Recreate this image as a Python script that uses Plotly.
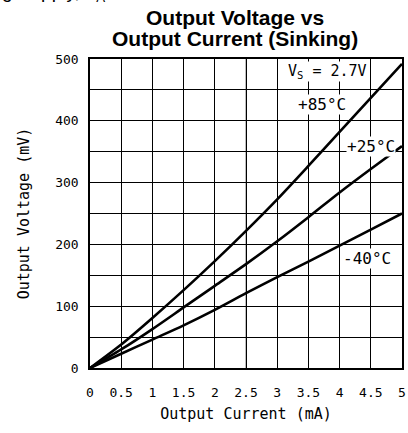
import plotly.graph_objects as go

# Data
current_ma = [0, 0.5, 1, 1.5, 2, 2.5, 3, 3.5, 4, 4.5, 5]
v_85c = [0, 38, 81, 126, 173, 222, 273, 327, 382, 437, 492]
v_25c = [0, 30, 63, 98, 133, 168, 205, 244, 284, 322, 359]
v_m40c = [0, 23, 46, 69, 94, 121, 147, 172, 198, 224, 250]

x_ticks = [0, 0.5, 1, 1.5, 2, 2.5, 3, 3.5, 4, 4.5, 5]
x_tick_labels = ["0", "0.5", "1", "1.5", "2", "2.5", "3", "3.5", "4", "4.5", "5"]
y_ticks = [0, 100, 200, 300, 400, 500]
y_tick_labels = ["0", "100", "200", "300", "400", "500"]

MONO = "DejaVu Sans Mono, Liberation Mono, monospace"
SANS = "Liberation Sans, Arial, Helvetica, sans-serif"

fig = go.Figure()
for name, vals in [("+85°C", v_85c), ("+25°C", v_25c), ("-40°C", v_m40c)]:
    fig.add_trace(go.Scatter(
        x=current_ma, y=vals, mode="lines", name=name,
        line=dict(color="black", width=2.6, shape="spline", smoothing=0.8),
        showlegend=False, hoverinfo="skip",
    ))

fig.update_layout(
    width=408, height=433, autosize=False,
    margin=dict(l=90, r=6, t=59, b=65, pad=0),
    paper_bgcolor="white", plot_bgcolor="white",
    font=dict(family=MONO, color="black"),
)

fig.update_xaxes(
    range=[0, 5], tickvals=x_ticks, ticktext=x_tick_labels,
    showgrid=True, gridcolor="black", gridwidth=1.3,
    showline=True, linecolor="black", linewidth=1.5, mirror=True,
    zeroline=False, ticks="", ticklabelstandoff=12,
    tickfont=dict(family=MONO, size=13, color="black"),
    title=dict(text="Output Current (mA)", font=dict(family=MONO, size=15, color="black"), standoff=9),
    fixedrange=True, automargin=False,
)
fig.update_yaxes(
    range=[0, 500], tickvals=y_ticks, ticktext=y_tick_labels,
    showgrid=True, gridcolor="black", gridwidth=1.3,
    minor=dict(dtick=50, tick0=0, showgrid=True, gridcolor="black", gridwidth=1.3),
    showline=True, linecolor="black", linewidth=1.5, mirror=True,
    zeroline=False, ticks="", ticklabelstandoff=7,
    tickfont=dict(family=MONO, size=13, color="black"),
    title=dict(text="Output Voltage (mV)", font=dict(family=MONO, size=15, color="black"), standoff=22),
    fixedrange=True, automargin=False,
)

# lighter grid line at 2.5 mA
fig.add_shape(type="line", xref="x", yref="paper", x0=2.5, x1=2.5, y0=0, y1=1,
              line=dict(color="#a0a0a0", width=1.4), layer="below")

# chart title (two lines)
title_font = dict(family=SANS, size=21, color="black", weight="bold")
fig.add_annotation(x=(235 - 90) / 312, y=(368.3 - 17) / 309.3, xref="paper", yref="paper",
                   xanchor="center", yanchor="middle", text="Output Voltage vs",
                   showarrow=False, font=title_font)
fig.add_annotation(x=(235 - 90) / 312, y=(368.3 - 38) / 309.3, xref="paper", yref="paper",
                   xanchor="center", yanchor="middle", text="Output Current (Sinking)",
                   showarrow=False, font=title_font)

ann_font = dict(family=MONO, size=16, color="black")
fig.add_annotation(x=3.8, y=479, xref="x", yref="y", text="V<sub>S</sub> = 2.7V",
                   showarrow=False, font=dict(family=MONO, size=15, color="black"),
                   bgcolor="white", borderpad=0)
fig.add_annotation(x=3.72, y=427, xref="x", yref="y", text="+85°C",
                   showarrow=False, font=ann_font, bgcolor="white", borderpad=0)
fig.add_annotation(x=4.5, y=359, xref="x", yref="y", text="+25°C",
                   showarrow=False, font=ann_font, bgcolor="white", borderpad=0)
fig.add_annotation(x=4.44, y=178, xref="x", yref="y", text="-40°C",
                   showarrow=False, font=ann_font, bgcolor="white", borderpad=0)

# cut-off text from the page above the chart (only its lower edge shows)
fig.add_annotation(x=-90 / 312, y=(368.3 - 7) / 309.3, xref="paper", yref="paper",
                   xanchor="left", yanchor="bottom", text="g Supply, T<sub>A</sub>",
                   showarrow=False, font=dict(family=SANS, size=19, color="black"))

fig.write_html("out.html", config={"displayModeBar": False})

# remove default page margin so the figure sits at the window's top-left corner
with open("out.html", "r", encoding="utf-8") as f:
    html = f.read()
html = html.replace("<head>", "<head><style>html,body{margin:0;padding:0;overflow:hidden;}</style>", 1)
with open("out.html", "w", encoding="utf-8") as f:
    f.write(html)
